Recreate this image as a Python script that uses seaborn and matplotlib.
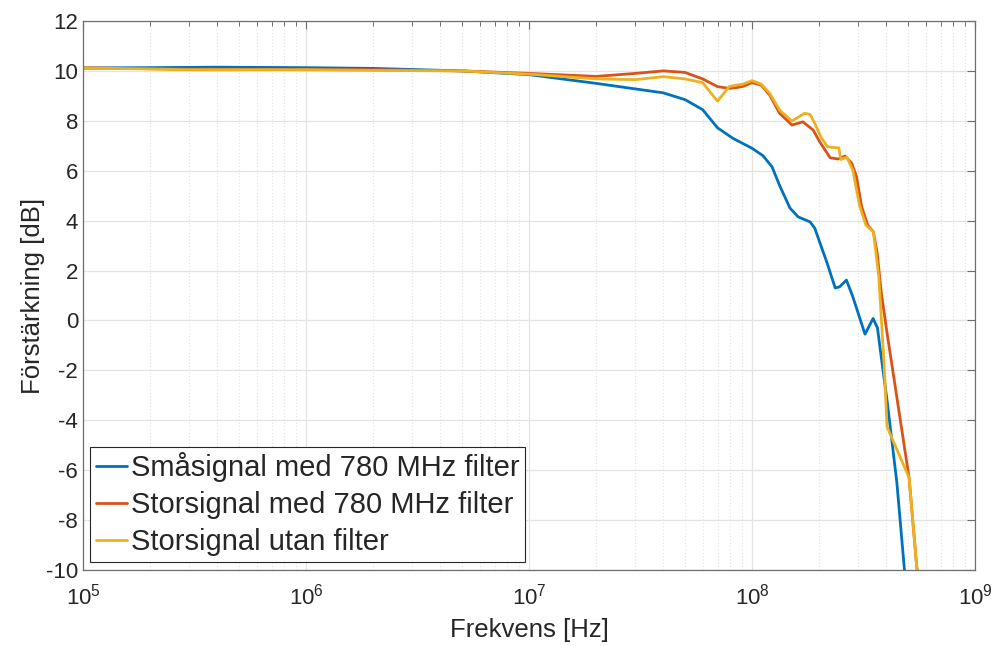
import numpy as np
import pandas as pd
import matplotlib
matplotlib.use("Agg")
import matplotlib.pyplot as plt
import matplotlib.ticker as mticker
import seaborn as sns

# ---- data ----
f_small = [1e5, 2e5, 4e5, 1e6, 2e6, 5e6, 1e7, 2e7, 4e7, 5e7, 6e7, 7e7, 8.2e7, 1e8,
           1.12e8, 1.23e8, 1.33e8, 1.48e8, 1.61e8, 1.82e8, 1.91e8, 2.17e8, 2.36e8,
           2.47e8, 2.65e8, 2.83e8, 3.21e8, 3.49e8, 3.65e8, 3.8e8, 4.03e8, 4.46e8, 5.0e8]
g_small = [10.12, 10.13, 10.15, 10.13, 10.1, 10.0, 9.85, 9.5, 9.12, 8.85, 8.45, 7.72, 7.3, 6.9,
           6.6, 6.15, 5.4, 4.5, 4.15, 3.95, 3.7, 2.3, 1.3,
           1.35, 1.62, 0.95, -0.55, 0.08, -0.3, -1.5, -3.2, -6.5, -11.6]

f_large = [1e5, 3e5, 1e6, 2e6, 5e6, 1e7, 2e7, 3e7, 4e7, 5e7, 6e7, 7e7, 7.9e7, 8.5e7,
           9.1e7, 1e8, 1.1e8, 1.2e8, 1.33e8, 1.51e8, 1.69e8, 1.88e8, 2.01e8, 2.24e8,
           2.43e8, 2.61e8, 2.8e8, 2.94e8, 3.1e8, 3.3e8, 3.5e8, 3.64e8, 3.8e8, 4.03e8,
           5.06e8, 6e8]
g_large = [10.12, 10.07, 10.05, 10.05, 10.0, 9.9, 9.78, 9.9, 10.0, 9.94, 9.68, 9.37, 9.3, 9.33,
           9.38, 9.53, 9.43, 9.03, 8.3, 7.83, 7.96, 7.63, 7.16, 6.52,
           6.47, 6.59, 6.3, 5.76, 4.56, 3.82, 3.55, 2.7, 1.1, -0.5,
           -6.3, -14.0]

f_nofilt = [1e5, 3e5, 1e6, 2e6, 5e6, 1e7, 2e7, 3e7, 4e7, 5e7, 6e7, 7e7, 7.9e7, 8.5e7,
            9.1e7, 1e8, 1.1e8, 1.2e8, 1.33e8, 1.51e8, 1.72e8, 1.82e8, 1.91e8, 2.05e8,
            2.18e8, 2.4e8, 2.45e8, 2.5e8, 2.66e8, 2.83e8, 3.03e8, 3.24e8, 3.5e8, 3.7e8,
            3.9e8, 4.03e8, 5.06e8, 6e8]
g_nofilt = [10.12, 10.05, 10.05, 10.02, 10.0, 9.87, 9.68, 9.65, 9.77, 9.68, 9.53, 8.79, 9.37, 9.43,
            9.47, 9.61, 9.47, 9.1, 8.43, 7.99, 8.3, 8.26, 7.9, 7.3,
            6.96, 6.92, 6.92, 6.45, 6.54, 6.03, 4.62, 3.82, 3.55, 1.75,
            -1.6, -4.26, -6.3, -14.0]

labels = ["Småsignal med 780 MHz filter",
          "Storsignal med 780 MHz filter",
          "Storsignal utan filter"]
colors = ["#0072BD", "#D95319", "#EDB120"]

x_ticks = [1e5, 1e6, 1e7, 1e8, 1e9]
x_ticklabels = [r"$10^{5}$", r"$10^{6}$", r"$10^{7}$", r"$10^{8}$", r"$10^{9}$"]
y_ticks = list(range(-10, 13, 2))

df = pd.concat([
    pd.DataFrame({"f": f_small, "g": g_small, "serie": labels[0]}),
    pd.DataFrame({"f": f_large, "g": g_large, "serie": labels[1]}),
    pd.DataFrame({"f": f_nofilt, "g": g_nofilt, "serie": labels[2]}),
], ignore_index=True)

sns.set_style("white")
plt.rcParams["font.family"] = ["Liberation Sans", "DejaVu Sans"]
plt.rcParams["mathtext.fontset"] = "custom"
plt.rcParams["mathtext.rm"] = "Liberation Sans"
plt.rcParams["mathtext.it"] = "Liberation Sans"
plt.rcParams["axes.unicode_minus"] = False

fig = plt.figure(figsize=(9.97, 6.46), dpi=100)
ax = fig.add_axes([0.0833, 0.1176, 0.8947, 0.8499])

sns.lineplot(data=df, x="f", y="g", hue="serie", hue_order=labels,
             palette=colors, estimator=None, sort=False, linewidth=2.0, ax=ax)

ax.set_xscale("log")
ax.set_xlim(1e5, 1e9)
ax.set_ylim(-10, 12)
ax.set_xticks(x_ticks)
ax.set_xticklabels(x_ticklabels)
ax.set_yticks(y_ticks)
ax.set_yticklabels([str(v) for v in y_ticks])
ax.xaxis.set_minor_locator(mticker.LogLocator(base=10, subs=np.arange(2, 10), numticks=20))
ax.xaxis.set_minor_formatter(mticker.NullFormatter())

ax.grid(True, which="major", color="#e3e3e3", linewidth=0.9, linestyle="-")
ax.grid(True, which="minor", axis="x", color="#e3e3e3", linewidth=0.8, linestyle=(0, (1, 2)))
ax.set_axisbelow(True)

for s in ax.spines.values():
    s.set_color("#6e6e6e")
    s.set_linewidth(0.9)
ax.tick_params(which="both", direction="in", top=True, right=True, colors="#6e6e6e",
               labelcolor="#262626", labelsize=16)
ax.tick_params(which="major", length=6, width=0.8)
ax.tick_params(which="minor", length=3.5, width=0.7)
ax.tick_params(axis="x", pad=10)

ax.set_xlabel("Frekvens [Hz]", fontsize=18.5, color="#262626", labelpad=6)
ax.set_ylabel("Förstärkning [dB]", fontsize=18.5, color="#262626", labelpad=1)

leg = ax.legend(loc="lower left", bbox_to_anchor=(0.008, 0.015), borderaxespad=0,
                fontsize=21, frameon=True, fancybox=False, handlelength=1.05,
                handletextpad=0.15, labelspacing=0.3, borderpad=0.2)
leg.get_frame().set_edgecolor("#262626")
leg.get_frame().set_linewidth(0.8)
leg.get_frame().set_alpha(1.0)
for line in leg.get_lines():
    line.set_linewidth(2.0)

fig.savefig("out.png", dpi=100)
